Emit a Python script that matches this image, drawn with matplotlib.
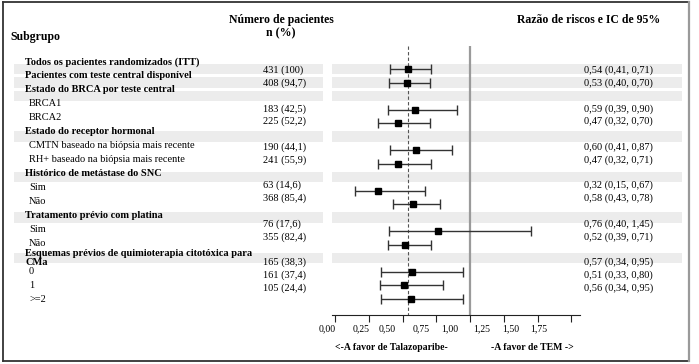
import numpy as np
import matplotlib
matplotlib.use("Agg")
import matplotlib.pyplot as plt
from matplotlib.patches import Rectangle
from matplotlib.lines import Line2D

plt.rcParams['font.family'] = ['Liberation Serif', 'DejaVu Serif']

# data
labels = ["Todos os pacientes randomizados (ITT)", "Pacientes com teste central disponível",
          "Estado do BRCA por teste central", "BRCA1", "BRCA2",
          "Estado do receptor hormonal", "CMTN baseado na biópsia mais recente",
          "RH+ baseado na biópsia mais recente", "Histórico de metástase do SNC", "Sim", "Não",
          "Tratamento prévio com platina", "Sim", "Não",
          "Esquemas prévios de quimioterapia citotóxica para\nCMa", "0", "1", ">=2"]
is_header = [1, 1, 1, 0, 0, 1, 0, 0, 1, 0, 0, 1, 0, 0, 1, 0, 0, 0]
n_pct = ["431 (100)", "408 (94,7)", "", "183 (42,5)", "225 (52,2)", "", "190 (44,1)",
         "241 (55,9)", "", "63 (14,6)", "368 (85,4)", "", "76 (17,6)", "355 (82,4)", "",
         "165 (38,3)", "161 (37,4)", "105 (24,4)"]
hr = [0.54, 0.53, np.nan, 0.59, 0.47, np.nan, 0.60, 0.47, np.nan, 0.32, 0.58, np.nan,
      0.76, 0.52, np.nan, 0.57, 0.51, 0.56]
lo = [0.41, 0.40, np.nan, 0.39, 0.32, np.nan, 0.41, 0.32, np.nan, 0.15, 0.43, np.nan,
      0.40, 0.39, np.nan, 0.34, 0.33, 0.34]
hi = [0.71, 0.70, np.nan, 0.90, 0.70, np.nan, 0.87, 0.71, np.nan, 0.67, 0.78, np.nan,
      1.45, 0.71, np.nan, 0.95, 0.80, 0.95]
band_rows = [0, 1, 2, 5, 8, 11, 14]
xticks = [0.0, 0.25, 0.5, 0.75, 1.0, 1.25, 1.5, 1.75]
xtick_labels = ["0,00", "0,25", "0,50", "0,75", "1,00", "1,25", "1,50", "1,75"]

hr = np.array(hr); lo = np.array(lo); hi = np.array(hi)
rows = np.arange(len(labels))


def row(p):
    # pixel y -> row units
    return (p - 69) / 13.5


def fmt(v):
    return f"{v:.2f}".replace(".", ",")


fig = plt.figure(figsize=(6.99, 3.64), dpi=100)

# background axes in pixel x / row y
bg = fig.add_axes([0, 0, 1, 1])
bg.set_xlim(0, 699)
bg.set_ylim(row(364), row(0))
bg.axis('off')

for r in band_rows:
    bg.add_patch(Rectangle((14, r - 0.4), 309, 0.8, color='#ececec', lw=0, zorder=0))
    bg.add_patch(Rectangle((332, r - 0.4), 350, 0.8, color='#ececec', lw=0, zorder=0))

# column headers
bg.text(10, row(37), "Subgrupo", fontsize=8.5, fontweight='bold', va='center')
bg.text(281, row(20), "Número de pacientes", fontsize=8.5, fontweight='bold', ha='center', va='center')
bg.text(281, row(33), "n (%)", fontsize=8.5, fontweight='bold', ha='center', va='center')
bg.text(589, row(20), "Razão de riscos e IC de 95%", fontsize=8.5, fontweight='bold', ha='center', va='center')

for i, lab in enumerate(labels):
    yl = -0.52 + 1.037 * i
    if is_header[i]:
        bg.text(25, yl, lab, fontsize=7.5, fontweight='bold', va='center', linespacing=0.95)
    else:
        bg.text(29, yl, lab, fontsize=7.5, va='center')
    yt = 0.1 + 0.948 * i
    if n_pct[i]:
        bg.text(263, yt, n_pct[i], fontsize=7.5, va='center')
    if not np.isnan(hr[i]):
        bg.text(584, yt, f"{fmt(hr[i])} ({fmt(lo[i])}, {fmt(hi[i])})", fontsize=7.5, va='center')

# forest plot axes
ax = fig.add_axes([332 / 699, (364 - 315) / 364, (580 - 332) / 699, (315 - 40) / 364])
ax.patch.set_alpha(0)
ax.set_ylim(row(315), row(40))
ax.set_xlim((332 - 335) / 135, (580 - 335) / 135)

ax.vlines(1.0, row(46), row(315), color='#9a9a9a', lw=1.6, zorder=1)
ax.vlines(hr[0], row(46), row(315), color='#555555', lw=0.8, linestyles=(0, (3, 2)), zorder=1)

ok = ~np.isnan(hr)
ax.errorbar(hr[ok], rows[ok], xerr=[hr[ok] - lo[ok], hi[ok] - hr[ok]], fmt='s', color='black',
            ecolor='#333333', elinewidth=1, capsize=3.6, capthick=1, ms=4.8, zorder=3)

for s in ['top', 'right', 'left']:
    ax.spines[s].set_visible(False)
ax.spines['bottom'].set_color('#222222')
ax.set_yticks([])
ax.set_xticks(xticks)
ax.set_xticklabels([])
ax.tick_params(axis='x', direction='out', length=5, color='#222222')

# tick labels sit offset from the ticks in the original
label_pos = [-0.06, 0.19, 0.39, 0.64, 0.85, 1.09, 1.30, 1.51]
for xp, t in zip(label_pos, xtick_labels):
    ax.text(xp, row(329), t, fontsize=7, ha='center', va='center')
ax.text(0.42, row(347), "<-A favor de Talazoparibe-", fontsize=7, fontweight='bold', ha='center', va='center')
ax.text(1.46, row(347), "-A favor de TEM ->", fontsize=7, fontweight='bold', ha='center', va='center')

# frame
fig.add_artist(Line2D([3 / 699, 689 / 699], [1 - 1.5 / 364, 1 - 1.5 / 364], color='#333333', lw=1.3))
fig.add_artist(Line2D([3 / 699, 3 / 699], [1 - 1.5 / 364, 1 - 361 / 364], color='#333333', lw=1.3))
fig.add_artist(Line2D([3 / 699, 689 / 699], [1 - 361 / 364, 1 - 361 / 364], color='#333333', lw=1.3))
fig.add_artist(Line2D([689 / 699, 689 / 699], [1 - 1.5 / 364, 1 - 361 / 364], color='#9a9a9a', lw=1.6))

fig.savefig("out.png", dpi=100)
